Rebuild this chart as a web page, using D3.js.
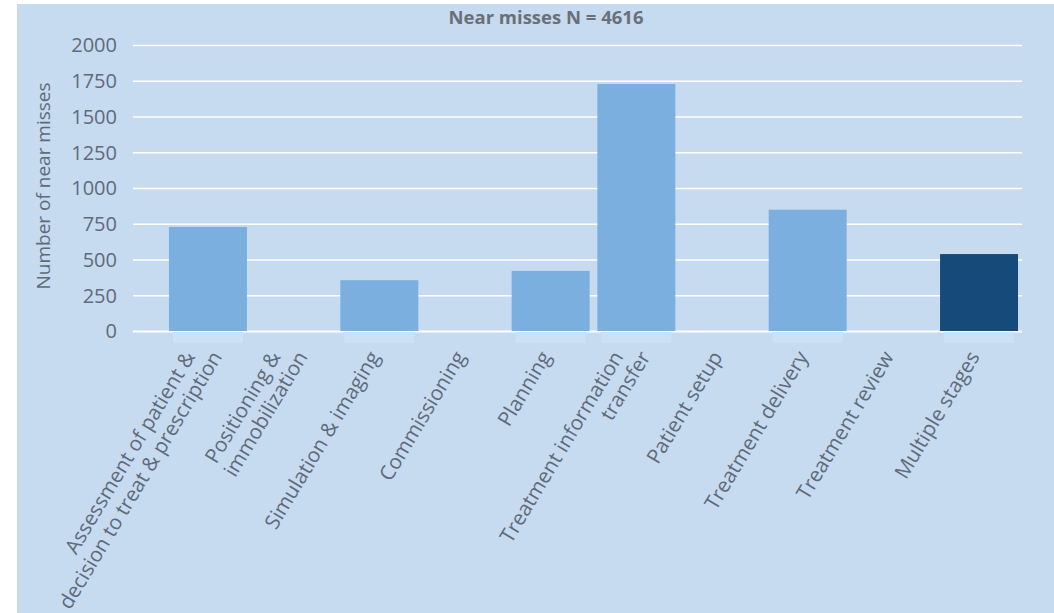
<!DOCTYPE html>
<html>
<head>
<meta charset="utf-8">
<script src="https://cdn.jsdelivr.net/npm/d3@7"></script>
<style>
  html, body { margin: 0; padding: 0; background: #ffffff; }
  svg { display: block; }
</style>
</head>
<body>
<svg id="chart" width="1054" height="613"></svg>
<script>
// Near misses by stage of the radiotherapy process
const categories = [
  ["Assessment of patient &", "decision to treat & prescription"],
  ["Positioning &", "immobilization"],
  ["Simulation & imaging"],
  ["Commissioning"],
  ["Planning"],
  ["Treatment information", "transfer"],
  ["Patient setup"],
  ["Treatment delivery"],
  ["Treatment review"],
  ["Multiple stages"]
];
const values = [728, 0, 355, 0, 420, 1727, 0, 848, 0, 538];
const yTicks = [0, 250, 500, 750, 1000, 1250, 1500, 1750, 2000];
const title = "Near misses N = 4616";
const yTitle = "Number of near misses";

const keys = categories.map(c => c.join(" "));
const data = keys.map((k, i) => ({ key: k, lines: categories[i], value: values[i], idx: i }));

const svg = d3.select("#chart");
const W = 1054, H = 613;

// panel background
svg.append("rect")
  .attr("x", 17).attr("y", 4)
  .attr("width", W - 17).attr("height", H - 4)
  .attr("fill", "#c6daf0");

const x = d3.scaleBand()
  .domain(keys)
  .range([139, 1048])
  .paddingInner(0.09)
  .paddingOuter(0.35);

const y = d3.scaleLinear()
  .domain([0, 2000])
  .range([331, 45]);

const gridLeft = 133, gridRight = 1022;

// horizontal gridlines and value labels
const yAxis = d3.axisLeft(y)
  .tickValues(yTicks)
  .tickSize(-(gridRight - gridLeft))
  .tickPadding(16)
  .tickFormat(d3.format("d"));

const gy = svg.append("g")
  .attr("transform", `translate(${gridLeft},0)`)
  .call(yAxis);
gy.select(".domain").remove();
gy.selectAll(".tick line")
  .attr("stroke", "#ffffff")
  .attr("stroke-width", d => d === 0 ? 2 : 1.6);
gy.selectAll(".tick text")
  .attr("fill", "#5f6b7a")
  .attr("font-family", "'Open Sans', sans-serif")
  .attr("font-size", 20)
  .attr("dy", "0.34em");

// faint light strip under each bar below the baseline
svg.append("g")
  .selectAll("rect")
  .data(data.filter(d => d.value > 0))
  .join("rect")
  .attr("x", d => x(d.key) + 4)
  .attr("y", y(0) + 1)
  .attr("width", x.bandwidth() - 8)
  .attr("height", 11)
  .attr("fill", "#cde1f6");

// bars
svg.append("g")
  .selectAll("rect")
  .data(data)
  .join("rect")
  .attr("x", d => x(d.key))
  .attr("y", d => y(d.value))
  .attr("width", x.bandwidth())
  .attr("height", d => y(0) - y(d.value))
  .attr("fill", d => d.idx === data.length - 1 ? "#164a7a" : "#7aafdf");

// rotated category labels
const angle = -59;
const labelY = 353;
const lineShift = 27;
const lg = svg.append("g")
  .attr("font-family", "'Open Sans', sans-serif")
  .attr("font-size", 20.5)
  .attr("fill", "#5f6b7a");

data.forEach(d => {
  const cx = x(d.key) + x.bandwidth() / 2;
  const n = d.lines.length;
  d.lines.forEach((line, j) => {
    const off = (j - (n - 1) / 2) * lineShift;
    lg.append("text")
      .attr("transform", `translate(${cx + off - 5},${labelY}) rotate(${angle})`)
      .attr("text-anchor", "end")
      .attr("dy", "0.35em")
      .text(line);
  });
});

// y axis title
svg.append("text")
  .attr("transform", `translate(50,186) rotate(-90)`)
  .attr("text-anchor", "middle")
  .attr("font-family", "'Open Sans', sans-serif")
  .attr("font-size", 19)
  .attr("fill", "#5f6b7a")
  .text(yTitle);

// chart title
svg.append("text")
  .attr("x", 546)
  .attr("y", 24)
  .attr("text-anchor", "middle")
  .attr("font-family", "'Open Sans', sans-serif")
  .attr("font-weight", "bold")
  .attr("font-size", 18.5)
  .attr("fill", "#6b6f76")
  .text(title);
</script>
</body>
</html>
